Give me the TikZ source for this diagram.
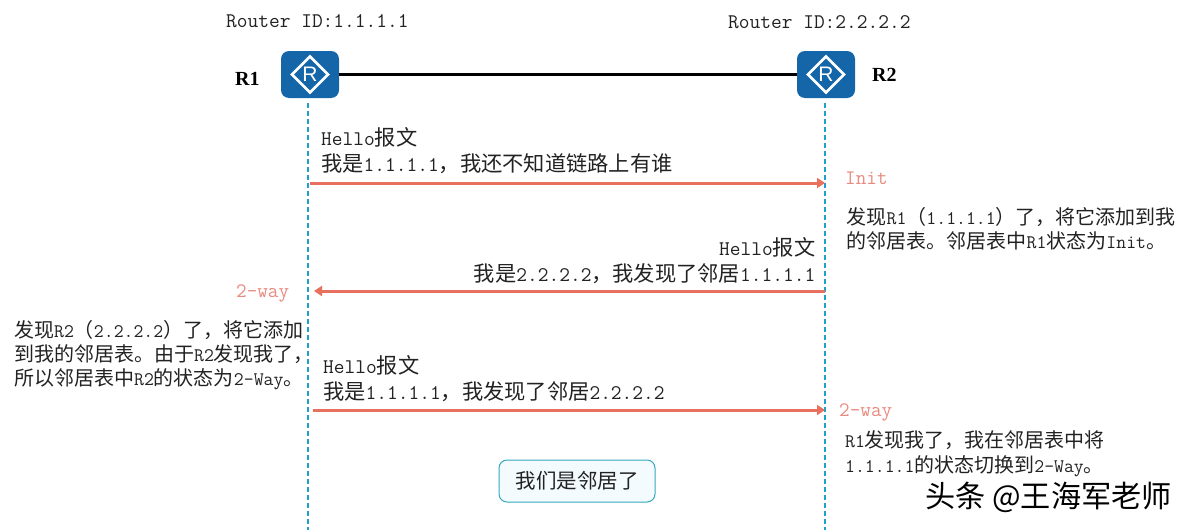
\documentclass[tikz,border=0pt]{standalone}
\usepackage{fontspec}
\usetikzlibrary{shapes.geometric,arrows.meta}
\newfontfamily\cjkf{Noto Sans CJK SC}
\newfontfamily\latf[Scale=0.98]{Latin Modern Mono}
\newfontfamily\latg[Scale=0.96]{Latin Modern Mono}
\newfontfamily\boldf{Liberation Serif}
\newfontfamily\routerf{Liberation Sans}
\newcommand{\zh}[1]{{\cjkf #1}}
\definecolor{routerblue}{HTML}{1565A9}
\definecolor{lifeblue}{HTML}{1F9FD0}
\definecolor{msgred}{HTML}{E8705F}
\definecolor{statered}{HTML}{E98A80}
\definecolor{inkdark}{HTML}{222222}
\definecolor{doneline}{HTML}{35A8C0}
\definecolor{donefill}{HTML}{F3FBFE}
\tikzset{
  routerbox/.style={rectangle,rounded corners=8pt,fill=routerblue,minimum width=58pt,minimum height=47pt,inner sep=0pt},
  routermark/.style={diamond,draw=white,line width=2.6pt,minimum width=37pt,minimum height=37pt,inner sep=0pt,text=white,font=\fontsize{21}{21}\selectfont\routerf},
  lifeline/.style={draw=lifeblue,line width=1.8pt,dash pattern=on 5pt off 3pt},
  msg/.style={draw=msgred,line width=3pt,-{Triangle[length=8pt,width=10pt]}},
  linkline/.style={draw=black,line width=2.2pt},
  big/.style={inner sep=0pt,text=inkdark,font=\fontsize{21.25}{26}\selectfont\latf},
  small/.style={inner sep=0pt,text=inkdark,font=\fontsize{20}{24}\selectfont\latg},
  statelabel/.style={inner sep=0pt,text=statered,font=\fontsize{21}{26}\selectfont\latf},
  rname/.style={inner sep=0pt,text=black,font=\fontsize{20}{20}\selectfont\boldf\bfseries},
  donebox/.style={rectangle,rounded corners=8pt,draw=doneline,fill=donefill,line width=1pt,minimum width=156pt,minimum height=42pt,inner sep=0pt,text=inkdark,font=\fontsize{20.5}{24}\selectfont\cjkf}
}
\begin{document}
\begin{tikzpicture}[x=1pt,y=-1pt]
\useasboundingbox (0,0) rectangle (1188,530);
% lifelines
\coordinate (l1t) at (308,103); \coordinate (l1b) at (308,530);
\coordinate (l2t) at (825,103); \coordinate (l2b) at (825,530);
\draw[lifeline] (l1t) -- (l1b);
\draw[lifeline] (l2t) -- (l2b);
% routers
\node[routerbox] (r1) at (310,74.5) {};
\node[routerbox] (r2) at (826,74.5) {};
\node[routermark] (r1m) at (r1) {R};
\node[routermark] (r2m) at (r2) {R};
\draw[linkline] (r1.east) -- (r2.west);
% titles
\node[big,anchor=west] (id1) at (226,21) {Router ID:1.1.1.1};
\node[big,anchor=west] (id2) at (728,22) {Router ID:2.2.2.2};
\node[rname,anchor=west] (n1) at (235,79) {R1};
\node[rname,anchor=west] (n2) at (872,75) {R2};
% messages
\coordinate (m1a) at (310,183); \coordinate (m1b) at (825,183);
\coordinate (m2a) at (825,291); \coordinate (m2b) at (314,291);
\coordinate (m3a) at (313,410); \coordinate (m3b) at (825,410);
\draw[msg] (m1a) -- (m1b);
\draw[msg] (m2a) -- (m2b);
\draw[msg] (m3a) -- (m3b);
\node[big,anchor=west,align=left] (t1) at (321,151) {Hello\zh{报文}\\\zh{我是}1.1.1.1\zh{，我还不知道链路上有谁}};
\node[big,anchor=east,align=right] (t2) at (815.5,261) {Hello\zh{报文}\\\zh{我是}2.2.2.2\zh{，我发现了邻居}1.1.1.1};
\node[big,anchor=west,align=left] (t3) at (323,379) {Hello\zh{报文}\\\zh{我是}1.1.1.1\zh{，我发现了邻居}2.2.2.2};
% states
\node[statelabel,anchor=west] (s1) at (845,178.5) {Init};
\node[statelabel,anchor=west] (s2) at (236,293) {2-way};
\node[statelabel,anchor=west] (s3) at (839,412) {2-way};
% notes
\node[small,anchor=west,align=left] (c1) at (846.5,228.5) {\zh{发现}R1\zh{（}1.1.1.1\zh{）了，将它添加到我}\\\zh{的邻居表。邻居表中}R1\zh{状态为}Init\zh{。}};
\node[small,anchor=west,align=left] (c2) at (14,355) {\zh{发现}R2\zh{（}2.2.2.2\zh{）了，将它添加}\\\zh{到我的邻居表。由于}R2\zh{发现我了，}\\\zh{所以邻居表中}R2\zh{的状态为}2-Way\zh{。}};
\node[small,anchor=west,align=left] (c3) at (845,453.5) {R1\zh{发现我了，我在邻居表中将}\\[1pt]1.1.1.1\zh{的状态切换到}2-Way\zh{。}};
% box
\node[donebox] (b) at (577,481) {我们是邻居了};
% watermark
\node[inner sep=0pt,anchor=west,text=black,font=\fontsize{30.2}{31}\selectfont\cjkf] (w) at (925,497) {头条 @王海军老师};
\end{tikzpicture}
\end{document}
